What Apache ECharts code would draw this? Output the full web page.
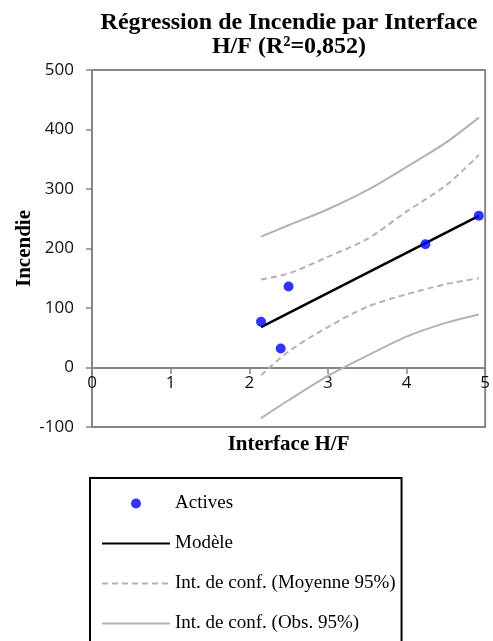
<!DOCTYPE html>
<html>
<head>
<meta charset="UTF-8">
<title>Régression de Incendie par Interface H/F</title>
<script src="https://cdn.jsdelivr.net/npm/echarts@6/dist/echarts.min.js"></script>
<style>
  html, body { margin: 0; padding: 0; background: #fff; }
  #chart { width: 493px; height: 641px; }
</style>
</head>
<body>
<div id="chart"></div>
<script>
// observed points (Interface H/F, Incendie)
const activesX = [2.15, 2.40, 2.50, 4.24, 4.92];
const activesY = [77, 32, 136, 207, 255];

// fitted line
const modelX = [2.15, 4.92];
const modelY = [68, 255];

// confidence bands
const bandX = [2.15, 2.5, 3.0, 3.5, 4.0, 4.5, 4.92];
const meanUpper = [148, 158, 186, 216, 262, 306, 357];
const meanLower = [-13, 27, 68, 102, 123, 140, 150];
const obsUpper = [220, 239, 266, 298, 337, 378, 420];
const obsLower = [-85, -55, -14, 20, 52, 75, 89];

const yTicks = [-100, 0, 100, 200, 300, 400, 500];

const zip = (xs, ys) => xs.map((x, i) => [x, ys[i]]);

const axisGray = "#868686";
const bandGray = "#B2B2B2";
const serif = "'Liberation Serif', 'Times New Roman', serif";
const sans = "'Open Sans', sans-serif";

// legend icons: plain line and dashed line in a 68x10 box
const solidIcon = "path://M0,0M0,4L68,4L68,6L0,6ZM68,10";
let dashed = "path://M0,0";
for (let x = 0; x < 68; x += 10) dashed += "M" + x + ",4h6v2h-6Z";
dashed += "M68,10";

const chart = echarts.init(document.getElementById("chart"));

const option = {
  animation: false,
  title: {
    text: "Régression de Incendie par Interface\nH/F (R²=0,852)",
    left: 284,
    top: 6,
    textAlign: "center",
    textStyle: {
      fontFamily: serif,
      fontWeight: "bold",
      fontSize: 24,
      lineHeight: 24,
      color: "#000",
    },
  },
  grid: {
    left: 92,
    right: 4,
    top: 70,
    bottom: 214,
    show: true,
    borderColor: axisGray,
    borderWidth: 2,
  },
  legend: {
    orient: "vertical",
    left: 90,
    top: 478,
    height: 170,
    padding: [16, 6, 16, 12],
    itemWidth: 68,
    itemHeight: 10,
    itemGap: 21,
    borderColor: "#000",
    borderWidth: 2,
    textStyle: { fontFamily: serif, fontSize: 19, color: "#000" },
    data: [
      { name: "Actives", icon: "circle" },
      { name: "Modèle", icon: solidIcon },
      { name: "Int. de conf. (Moyenne 95%)", icon: dashed },
      { name: "Int. de conf. (Obs. 95%)", icon: solidIcon },
    ],
  },
  xAxis: {
    type: "value",
    min: 0,
    max: 5,
    interval: 1,
    // the axis crosses the y axis at 0 (59 px above the bottom of the plot)
    offset: -59,
    name: "Interface H/F",
    nameLocation: "middle",
    nameGap: 66,
    nameMoveOverlap: false,
    nameTextStyle: {
      fontFamily: serif,
      fontWeight: "bold",
      fontSize: 21,
      color: "#000",
    },
    axisLine: { onZero: false, lineStyle: { color: axisGray, width: 2 } },
    axisTick: { show: true, length: 6, lineStyle: { color: axisGray, width: 1.5 } },
    axisLabel: { margin: 7, fontFamily: sans, fontSize: 17, color: "#111" },
    splitLine: { show: false },
  },
  yAxis: {
    type: "value",
    min: yTicks[0],
    max: yTicks[yTicks.length - 1],
    interval: 100,
    name: "Incendie",
    nameLocation: "middle",
    nameGap: 57,
    nameMoveOverlap: false,
    nameTextStyle: {
      fontFamily: serif,
      fontWeight: "bold",
      fontSize: 21,
      color: "#000",
    },
    axisLine: { show: true, onZero: false, lineStyle: { color: axisGray, width: 2 } },
    axisTick: { show: true, length: 6, lineStyle: { color: axisGray, width: 1.5 } },
    axisLabel: { margin: 18, fontFamily: sans, fontSize: 17, color: "#111" },
    splitLine: { show: false },
  },
  series: [
    {
      name: "Int. de conf. (Obs. 95%)",
      type: "line",
      data: zip(bandX, obsUpper),
      smooth: 0.3,
      symbol: "none",
      lineStyle: { color: bandGray, width: 2 },
      itemStyle: { color: bandGray },
    },
    {
      name: "Int. de conf. (Obs. 95%)",
      type: "line",
      data: zip(bandX, obsLower),
      smooth: 0.3,
      symbol: "none",
      lineStyle: { color: bandGray, width: 2 },
      itemStyle: { color: bandGray },
    },
    {
      name: "Int. de conf. (Moyenne 95%)",
      type: "line",
      data: zip(bandX, meanUpper),
      smooth: 0.3,
      symbol: "none",
      lineStyle: { color: bandGray, width: 2, type: [6, 4] },
      itemStyle: { color: bandGray },
    },
    {
      name: "Int. de conf. (Moyenne 95%)",
      type: "line",
      data: zip(bandX, meanLower),
      smooth: 0.3,
      symbol: "none",
      lineStyle: { color: bandGray, width: 2, type: [6, 4] },
      itemStyle: { color: bandGray },
    },
    {
      name: "Modèle",
      type: "line",
      data: zip(modelX, modelY),
      symbol: "none",
      lineStyle: { color: "#000", width: 2.5 },
      itemStyle: { color: "#000" },
    },
    {
      name: "Actives",
      type: "scatter",
      data: zip(activesX, activesY),
      symbol: "circle",
      symbolSize: 10,
      itemStyle: { color: "#0000FF" },
      z: 5,
    },
  ],
};

chart.setOption(option);
window.addEventListener("resize", chart.resize);
</script>
</body>
</html>
